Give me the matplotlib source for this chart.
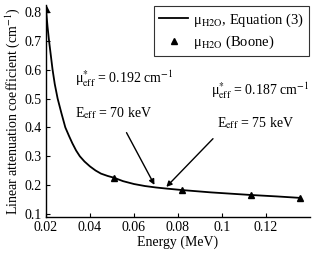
import numpy as np
import matplotlib
matplotlib.use('Agg')
import matplotlib.pyplot as plt

plt.rcParams['font.family'] = ['Liberation Serif', 'DejaVu Serif']
plt.rcParams['mathtext.fontset'] = 'stix'
plt.rcParams['font.size'] = 10

# curve (Equation (3))
curve_e = [0.0200, 0.0207, 0.0214, 0.0222, 0.0230, 0.0240, 0.0253, 0.0270, 0.0288,
           0.0305, 0.0320, 0.0337, 0.0354, 0.0375, 0.0400, 0.0425, 0.0450, 0.0480,
           0.0508, 0.0550, 0.0600, 0.0650, 0.0700, 0.0750, 0.0820,
           0.0950, 0.1132, 0.1250, 0.1354]
curve_mu = [0.810, 0.750, 0.700, 0.650, 0.600, 0.550, 0.500, 0.450, 0.400,
            0.370, 0.345, 0.320, 0.300, 0.282, 0.265, 0.251, 0.240, 0.232,
            0.226, 0.214, 0.204, 0.197, 0.192, 0.188, 0.183,
            0.175, 0.166, 0.161, 0.156]

# Boone points
boone_e = [0.020, 0.0508, 0.082, 0.1132, 0.1354]
boone_mu = [0.810, 0.226, 0.184, 0.166, 0.156]

xticks = [0.02, 0.04, 0.06, 0.08, 0.1, 0.12]
xticklabels = ['0.02', '0.04', '0.06', '0.08', '0.1', '0.12']
yticks = [0.1, 0.2, 0.3, 0.4, 0.5, 0.6, 0.7, 0.8]

fig = plt.figure(figsize=(3.17, 2.62), dpi=100)
ax = fig.add_axes([0.145, 0.172, 0.833, 0.81])

ax.plot(curve_e, curve_mu, color='black', lw=1.3,
        label=r'μ$_{\mathrm{H2O}}$, Equation (3)')
ax.plot(boone_e, boone_mu, '^', color='black', ms=4, ls='none',
        label=r'μ$_{\mathrm{H2O}}$ (Boone)')

ax.set_xlim(0.02, 0.14)
ax.set_ylim(0.09, 0.825)
ax.set_xticks(xticks)
ax.set_xticklabels(xticklabels)
ax.set_yticks(yticks)
ax.tick_params(direction='in', length=3, width=0.8, pad=3)
ax.spines['top'].set_visible(False)
ax.spines['right'].set_visible(False)
for s in ['left', 'bottom']:
    ax.spines[s].set_linewidth(1.0)

ax.set_xlabel('Energy (MeV)', labelpad=1)
ax.set_ylabel(r'Linear attenuation coefficient (cm$^{-1}$)', labelpad=2)

leg = ax.legend(loc='upper right', frameon=True, fancybox=False, edgecolor='black',
                handlelength=2.0, borderpad=0.35, labelspacing=0.35, handletextpad=0.3,
                borderaxespad=0.1, fontsize=10.5)
leg.get_frame().set_linewidth(0.8)

# annotations
ax.text(0.0331, 0.567, r'μ$^{*}_{\mathrm{eff}}$ = 0.192 cm$^{-1}$', va='center', ha='left')
ax.text(0.0331, 0.448, r'E$_{\mathrm{eff}}$ = 70 keV', va='center', ha='left')
ax.text(0.0950, 0.525, r'μ$^{*}_{\mathrm{eff}}$ = 0.187 cm$^{-1}$', va='center', ha='left')
ax.text(0.0977, 0.414, r'E$_{\mathrm{eff}}$ = 75 keV', va='center', ha='left')

ax.annotate('', xy=(0.0693, 0.201), xytext=(0.0566, 0.382),
            arrowprops=dict(arrowstyle='-|>', color='black', lw=1.0,
                            mutation_scale=8, shrinkA=0, shrinkB=0))
ax.annotate('', xy=(0.0747, 0.194), xytext=(0.0959, 0.361),
            arrowprops=dict(arrowstyle='-|>', color='black', lw=1.0,
                            mutation_scale=8, shrinkA=0, shrinkB=0))

fig.savefig('out.png', dpi=100)
